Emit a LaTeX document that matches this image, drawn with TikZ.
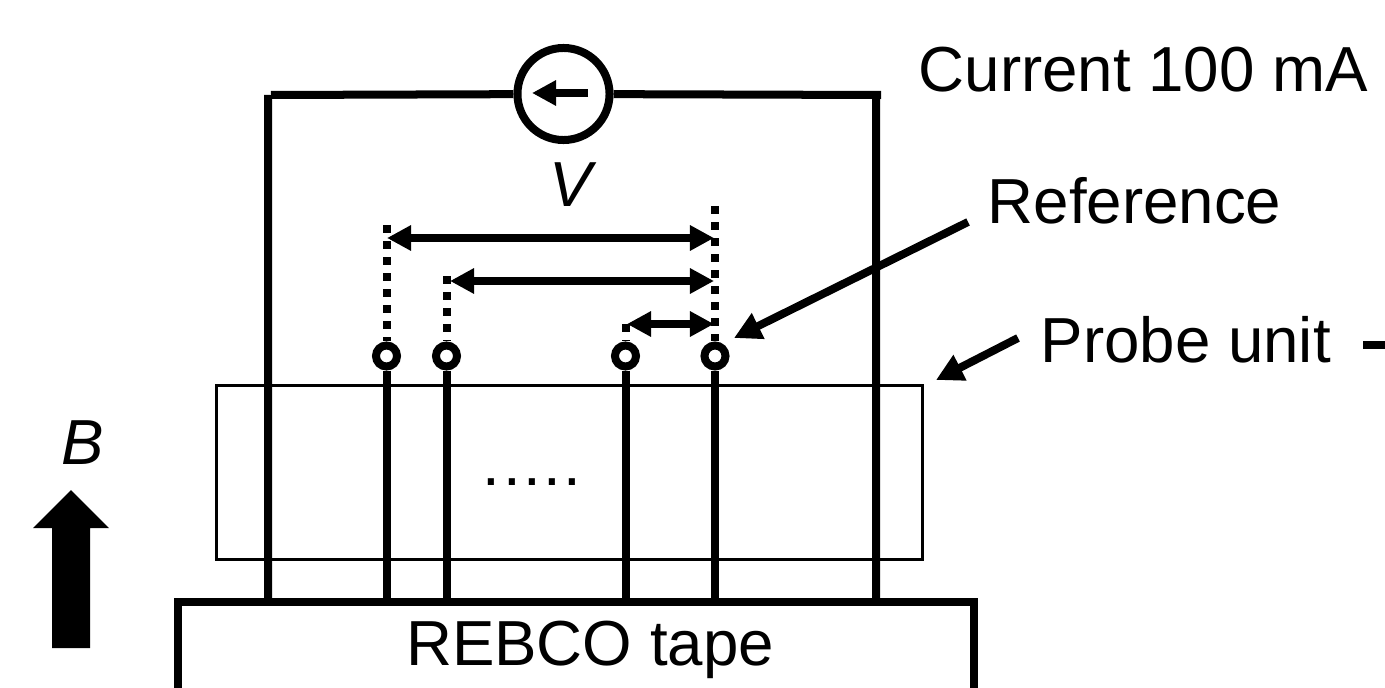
\documentclass[tikz,border=0pt]{standalone}
\usepackage{fontspec}
\setmainfont{Liberation Sans}
\usetikzlibrary{arrows.meta}
\tikzset{> = {Triangle[width=.24cm, length=.24cm]}, 
	wire/.style = {line width=.08cm},
	tap/.style = {circle, draw, line width=.08cm, minimum size=.21cm, inner sep=0pt},
	gap/.style = {line width=.08cm, dash pattern=on .08cm off .08cm},
	lab/.style = {anchor=base west, font=\fontsize{18.1}{20}\selectfont, inner sep=0pt}}

\begin{document}
\begin{tikzpicture}[x=.01cm, y=-.01cm]
	\useasboundingbox (0,0) rectangle (1385,688);
	\clip (0,0) rectangle (1385,688);
	% source and loop
	\node[circle, draw, line width=.08cm, minimum size=.92cm, inner sep=0pt] (src) at (563.5,94) {};
	\coordinate (tl) at (271,95);
	\coordinate (tlv) at (268,95);
	\coordinate (tr) at (881,95);
	\coordinate (trv) at (876,95);
	\coordinate (bl) at (268,602);
	\coordinate (br) at (876,602);
	\draw[wire] (src) -- (tl) (tlv) -- (bl) (src) -- (tr) (trv) -- (br);
	\coordinate (sa) at (588,93);
	\coordinate (sb) at (532,93);
	\draw[->, wire] (sa) -- (sb);
	% probe unit
	\draw[line width=.03cm] (216,385) rectangle (922,559);
	\node[font=\fontsize{18.1}{20}\selectfont\addfontfeature{LetterSpace=3.8}, inner sep=0pt] (dots) at (532,482) {.....};
	% tape
	\draw[wire] (178,700) -- (178,602) -- (974,602) -- (974,700);
	\node[lab, anchor=base] (tape) at (590,665) {REBCO tape};
	% taps
	\foreach \n/\x/\t in {1/386.5/225, 2/446.5/276, 3/625.5/324, 4/715/206} {
		\node[tap] (t\n) at (\x,356) {};
		\coordinate (f\n) at (\x,602);
		\coordinate (d\n) at (\x,\t);
		\draw[wire] (t\n) -- (f\n);
		\draw[gap] (d\n) -- (t\n.north);
	}
	% spans
	\coordinate (a1) at (387,238);
	\coordinate (b1) at (714,238);
	\coordinate (a2) at (450,281);
	\coordinate (b2) at (714,281);
	\coordinate (a3) at (627,324);
	\coordinate (b3) at (714,324);
	\foreach \n in {1,2,3}
		\draw[<->, wire] (a\n) -- (b\n);
	% labels
	\node[lab] (cur) at (918,92) {Current 100 mA};
	\node[lab, font=\fontsize{18.1}{20}\selectfont\itshape, anchor=base] (vlab) at (571,207) {V};
	\node[lab] (ref) at (987,224) {Reference};
	\node[lab] (pro) at (1040,362) {Probe unit};
	\node[lab, font=\fontsize{18.1}{20}\selectfont\itshape, anchor=base] (blab) at (83,464) {B};
	\coordinate (ra) at (968,222);
	\coordinate (rb) at (734,338);
	\coordinate (pa) at (1018,338);
	\coordinate (pb) at (936,380);
	\draw[-{Triangle[width=.27cm, length=.27cm]}, wire] (ra) -- (rb);
	\draw[-{Triangle[width=.27cm, length=.27cm]}, wire] (pa) -- (pb);
	\coordinate (ma) at (1363,345);
	\coordinate (mb) at (1385,345);
	\draw[wire] (ma) -- (mb);
	% field arrow
	\fill (71,490) -- (109,528) -- (90,528) -- (90,648) -- (52,648) -- (52,528) -- (33,528) -- cycle;
\end{tikzpicture}
\end{document}
